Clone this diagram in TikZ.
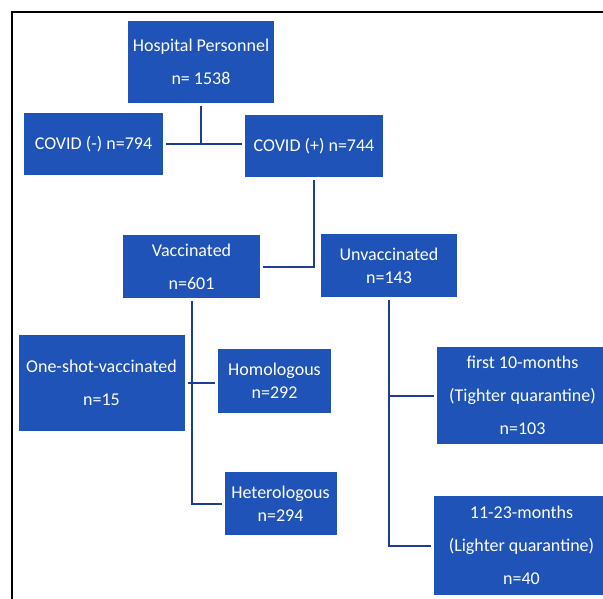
\documentclass[tikz,border=0pt]{standalone}
\usepackage{fontspec}
\setmainfont{Carlito}
\definecolor{boxblue}{RGB}{31,83,183}
\definecolor{linkblue}{RGB}{28,60,150}
\tikzset{
  blk/.style={fill=boxblue,text=white,inner sep=0pt,outer sep=3pt,align=center,font=\fontsize{18}{33}\selectfont},
  tight/.style={font=\fontsize{18}{23}\selectfont},
  link/.style={draw=linkblue,line width=2pt}
}

\begin{document}
\begin{tikzpicture}[x=1pt,y=-1pt]
\useasboundingbox (0,0) rectangle (603,599);
\clip (0,0) rectangle (603,599);
\draw[line width=2pt] (12,605) -- (12,12.5) -- (610,12.5);
\node (hosp) [blk,minimum width=146,minimum height=82] at (201,62) {Hospital Personnel\\n= 1538};
\node (neg) [blk,minimum width=139,minimum height=62] at (93.5,144) {COVID (-) n=794};
\node (pos) [blk,minimum width=138,minimum height=62] at (314,146) {COVID (+) n=744};
\node (vac) [blk,minimum width=137,minimum height=63] at (191.5,266.5) {Vaccinated\\n=601};
\node (unv) [blk,tight,minimum width=136,minimum height=63] at (389,265.5) {Unvaccinated\\n=143};
\node (oneshot) [blk,minimum width=166,minimum height=96] at (101.5,383) {One-shot-vaccinated\\n=15};
\node (homo) [blk,tight,minimum width=113,minimum height=64] at (274.5,381) {Homologous\\n=292};
\node (hetero) [blk,tight,minimum width=112,minimum height=63] at (280.5,503.5) {Heterologous\\n=294};
\node (first) [blk,minimum width=171,minimum height=97] at (522.5,395.5) {first 10-months\\(Tighter quarantine)\\n=103};
\node (later) [blk,minimum width=176,minimum height=99] at (521.5,545.5) {11-23-months\\(Lighter quarantine)\\n=40};
\draw[link] (hosp.south) -- (hosp.south |- neg.east);
\draw[link] (neg.east) -- (pos.west |- neg.east);
\draw[link] (pos.south) |- (vac.east);
\draw[link] (vac.south) |- (hetero.west);
\draw[link] (oneshot.east) -- (homo.west |- oneshot.east);
\draw[link] (unv.south) |- (first.west);
\draw[link] (unv.south) |- (later.west);
\end{tikzpicture}
\end{document}
